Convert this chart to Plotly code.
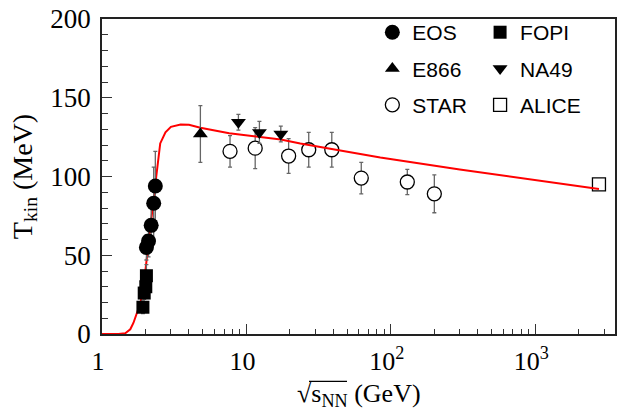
import plotly.graph_objects as go

# ---- data ----
eos_x = [2.03, 2.10, 2.19, 2.28, 2.34]
eos_T = [55, 59, 69, 83, 94]
eos_err = [8, 10, 13, 23, 22]

fopi_x = [1.92, 1.96, 2.01, 2.03]
fopi_T = [17, 26, 30, 37]
fopi_err = [4, 4, 5, 7]

e866_x = [4.8]
e866_T = [127]
e866_err = [18]

na49_x = [8.8, 12.3, 17.3]
na49_T = [134.5, 128, 127]
na49_err = [5, 7, 5]

star_x = [7.7, 11.5, 19.6, 27, 39, 62.4, 130, 200]
star_T = [116, 118, 113, 117, 117, 99, 96.5, 89]
star_err = [10, 13, 11, 11, 11, 10, 8, 12]

alice_x = [2760]
alice_T = [95]

curve_x = [1.0, 1.3, 1.45, 1.57, 1.65, 1.73, 1.85, 1.95, 2.05, 2.15, 2.25, 2.375,
           2.53, 2.75, 3.0, 3.5, 4.0, 4.8, 7.6, 12.3, 17.3, 23.6, 38, 84.5, 300, 1000, 2760]
curve_T = [0, 0, 0.5, 3, 7, 12, 20, 32, 50, 65, 80, 100,
           121, 128, 131.5, 133, 132.8, 131, 127.5, 125.4, 123.5, 121, 117.5, 112, 104.5, 97.6, 92]

xtick_vals = [1, 10, 100, 1000]
xtick_text = ["1", "10", "10<sup>2</sup>", "10<sup>3</sup>"]
xminor_vals = [m * d for d in (1, 10, 100) for m in range(2, 10)] + [2000, 3000]

SERIF = "Liberation Serif"
SANS = "Liberation Sans"
ERRC = "#666666"

def err(vals):
    return dict(type="data", array=vals, visible=True, color=ERRC, thickness=1.3, width=2)

fig = go.Figure()

fig.add_trace(go.Scatter(x=star_x, y=star_T, mode="markers", name="STAR",
                         marker=dict(symbol="circle", size=14, color="white",
                                     line=dict(color="black", width=1.3)),
                         error_y=err(star_err), legend="legend", legendrank=3,
                         legendgroup="star"))
fig.add_trace(go.Scatter(x=alice_x, y=alice_T, mode="markers", name="ALICE",
                         marker=dict(symbol="square-open", size=13, color="black",
                                     line=dict(color="black", width=1.3)),
                         legend="legend2", legendrank=3, legendgroup="alice"))
fig.add_trace(go.Scatter(x=curve_x, y=curve_T, mode="lines", showlegend=False,
                         line=dict(color="red", width=2)))
fig.add_trace(go.Scatter(x=fopi_x, y=fopi_T, mode="markers", name="FOPI",
                         marker=dict(symbol="square", size=13, color="black"),
                         error_y=err(fopi_err), legend="legend2", legendrank=1,
                         legendgroup="fopi"))
fig.add_trace(go.Scatter(x=eos_x, y=eos_T, mode="markers", name="EOS",
                         marker=dict(symbol="circle", size=15, color="black"),
                         error_y=err(eos_err), legend="legend", legendrank=1,
                         legendgroup="eos"))
fig.add_trace(go.Scatter(x=e866_x, y=e866_T, mode="markers", name="E866",
                         marker=dict(symbol="triangle-up", size=13, color="black"),
                         error_y=err(e866_err), legend="legend", legendrank=2,
                         legendgroup="e866"))
fig.add_trace(go.Scatter(x=na49_x, y=na49_T, mode="markers", name="NA49",
                         marker=dict(symbol="triangle-down", size=13, color="black"),
                         error_y=err(na49_err), legend="legend2", legendrank=2,
                         legendgroup="na49"))

leg_common = dict(font=dict(family=SANS, size=21, color="black"),
                  bgcolor="rgba(0,0,0,0)", borderwidth=0, yanchor="top",
                  xanchor="left", tracegroupgap=6, itemsizing="trace",
                  traceorder="grouped", groupclick="toggleitem")

# x-axis title as an annotation, with the radical's overline drawn as a line
PLOT_W, PLOT_H = 513, 319
def px_x(p):
    return (p - 102) / PLOT_W
def px_y(p):
    return (334 - p) / PLOT_H

fig.update_layout(
    width=635, height=414,
    margin=dict(l=102, r=20, t=15, b=80),
    paper_bgcolor="white", plot_bgcolor="white",
    showlegend=True,
    legend=dict(x=0.527, y=1.022, **leg_common),
    legend2=dict(x=0.737, y=1.022, **leg_common),
    xaxis=dict(type="log", range=[0, 3.552], automargin=False,
               tickmode="array", tickvals=xtick_vals, ticktext=xtick_text,
               ticks="inside", ticklen=10, tickwidth=1.2, tickcolor="#333",
               minor=dict(tickmode="array", tickvals=xminor_vals, ticks="inside",
                          ticklen=5, tickwidth=1, tickcolor="#333", showgrid=False),
               showline=True, linecolor="#222", linewidth=1.5, mirror=True,
               showgrid=False, zeroline=False,
               tickfont=dict(family=SERIF, size=26, color="black"),
               ticklabelstandoff=3, ticklabelshift=-4),
    yaxis=dict(range=[0, 200], tickmode="linear", tick0=0, dtick=50, automargin=False,
               ticks="inside", ticklen=10, tickwidth=1.2, tickcolor="#333",
               minor=dict(dtick=10, ticks="inside", ticklen=6, tickwidth=1,
                          tickcolor="#333", showgrid=False),
               showline=True, linecolor="#222", linewidth=1.5, mirror=True,
               showgrid=False, zeroline=False,
               tickfont=dict(family=SERIF, size=27, color="black"),
               ticklabelstandoff=4,
               title=dict(text="T<sub>kin</sub> (MeV)",
                          font=dict(family=SERIF, size=28, color="black"), standoff=10)),
    annotations=[dict(text="√s<sub>NN</sub> (GeV)", xref="paper", yref="paper",
                      x=0.5, y=px_y(396), xanchor="center", yanchor="middle",
                      showarrow=False, font=dict(family=SERIF, size=26, color="black"))],
    shapes=[dict(type="line", xref="paper", yref="paper",
                 x0=px_x(309), x1=px_x(347), y0=px_y(382), y1=px_y(382),
                 line=dict(color="black", width=1.2))],
)

fig.write_html("out.html")
